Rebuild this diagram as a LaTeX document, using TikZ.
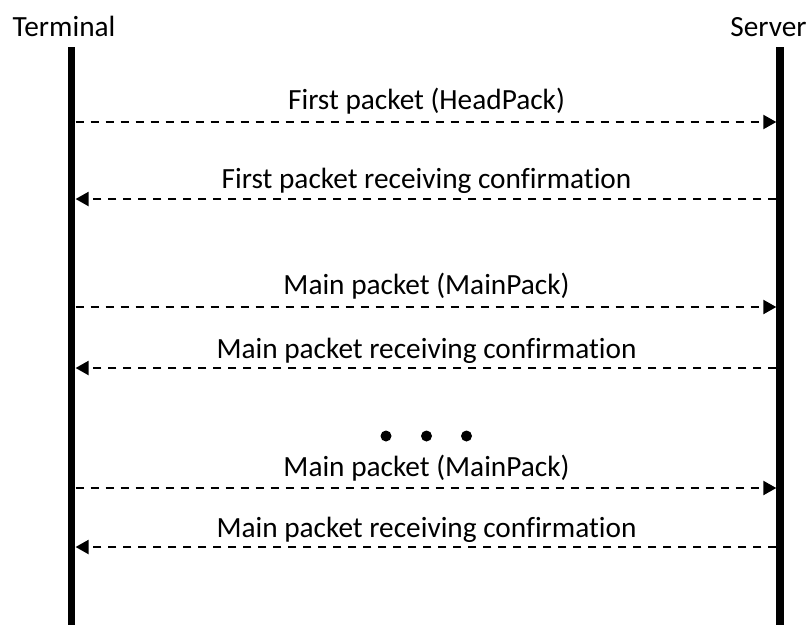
\documentclass[tikz,border=0pt]{standalone}
\usepackage{fontspec}
\setmainfont[Ligatures=NoCommon]{Carlito}
\usetikzlibrary{arrows.meta}
\begin{document}
\begin{tikzpicture}[x=1pt,y=-1pt,
  lifeline/.style={line width=7.5pt},
  msg/.style={line width=2.2pt,dash pattern=on 8pt off 7pt,
    -{Triangle[length=13pt,width=14pt]}},
  lbl/.style={anchor=base,inner sep=0pt,font=\fontsize{29.3}{34}\selectfont},
  dotmark/.style={fill=black,draw=none}]
\useasboundingbox (0,0) rectangle (808,625);

% participants
\node[lbl] (term) at (64,36.5) {Terminal};
\node[lbl] (serv) at (768.5,36.5) {Server};

% lifelines
\coordinate (ttop) at (71.7,47);
\coordinate (tbot) at (71.7,625);
\coordinate (stop) at (780.2,47);
\coordinate (sbot) at (780.2,625);
\draw[lifeline] (ttop) -- (tbot);
\draw[lifeline] (stop) -- (sbot);

% message anchor points on the lifeline edges
\foreach \n/\y in {1/122,2/199,3/307,4/368,5/488,6/547}{
  \coordinate (T\n) at (75.6,\y);
  \coordinate (S\n) at (776.3,\y);
}

% messages
\draw[msg] (T1) -- (S1);
\node[lbl] (m1) at (426.5,109) {First packet (HeadPack)};
\draw[msg] (S2) -- (T2);
\node[lbl] (m2) at (426.5,188) {First packet receiving confirmation};
\draw[msg] (T3) -- (S3);
\node[lbl] (m3) at (426.5,294) {Main packet (MainPack)};
\draw[msg] (S4) -- (T4);
\node[lbl] (m4) at (426.5,358) {Main packet receiving confirmation};

% ellipsis
\fill[dotmark] (386,436) circle (5.5);
\fill[dotmark] (426.5,436) circle (5.5);
\fill[dotmark] (466.5,436) circle (5.5);

\draw[msg] (T5) -- (S5);
\node[lbl] (m5) at (426.5,476) {Main packet (MainPack)};
\draw[msg] (S6) -- (T6);
\node[lbl] (m6) at (426.5,537) {Main packet receiving confirmation};
\end{tikzpicture}
\end{document}
